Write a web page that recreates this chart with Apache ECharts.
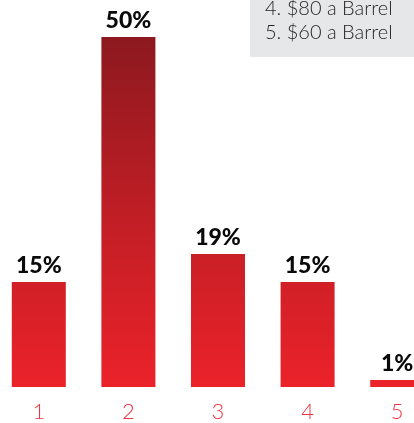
<!DOCTYPE html>
<html>
<head>
<meta charset="utf-8">
<style>
  html, body { margin: 0; padding: 0; background: #ffffff; overflow: hidden; width: 414px; height: 423px; }
  #chart { position: absolute; left: -6px; top: 0; width: 448px; height: 423px; }
</style>
<script src="https://cdn.jsdelivr.net/npm/echarts@6/dist/echarts.min.js"></script>
</head>
<body>
<div id="chart"></div>
<script>
// Survey answers by option number
const categories = ['1', '2', '3', '4', '5'];
const shares = [15, 50, 19, 15, 1];
const legendLines = ['4. $80 a Barrel', '5. $60 a Barrel'];

const chart = echarts.init(document.getElementById('chart'), null, { renderer: 'canvas' });

// One shared vertical gradient across all bars (dark at the top, bright red at the base)
const barFill = new echarts.graphic.LinearGradient(0, 37, 0, 390, [
  { offset: 0, color: '#8c191f' },
  { offset: 0.5, color: '#c01e25' },
  { offset: 1, color: '#ec222a' }
], true);

chart.setOption({
  animation: false,
  grid: { left: 0, right: 0, top: 37, bottom: 33, containLabel: false },
  xAxis: {
    type: 'category',
    data: categories,
    axisLine: { show: false },
    axisTick: { show: false },
    axisLabel: {
      color: '#ee3340',
      fontFamily: 'Lato',
      fontWeight: 300,
      fontSize: 22,
      margin: 14
    }
  },
  yAxis: {
    type: 'value',
    min: 0,
    max: 50,
    show: false,
    splitLine: { show: false }
  },
  series: [{
    type: 'bar',
    data: shares,
    barWidth: 54,
    itemStyle: { color: barFill },
    label: {
      show: true,
      position: 'top',
      distance: 5,
      formatter: p => p.value + '%',
      color: '#0a0a0a',
      fontFamily: 'Lato',
      fontWeight: 900,
      fontSize: 23
    }
  }],
  graphic: [
    {
      type: 'rect',
      left: 256,
      top: 0,
      shape: { width: 170, height: 57 },
      style: { fill: '#e6e7e8' },
      silent: true
    },
    {
      type: 'text',
      left: 271,
      top: -3,
      style: {
        text: legendLines.join('\n'),
        fill: '#231f20',
        font: '300 20px Lato',
        lineHeight: 24
      }
    }
  ]
});
</script>
</body>
</html>
